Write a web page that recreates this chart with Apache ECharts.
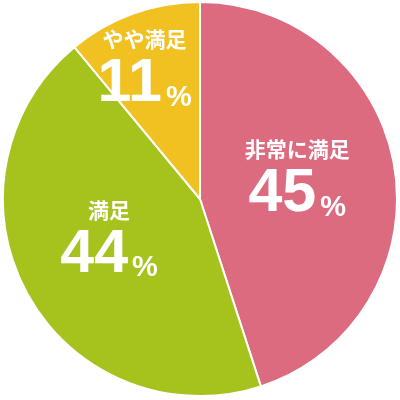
<!DOCTYPE html>
<html><head><meta charset="utf-8">
<script src="https://cdn.jsdelivr.net/npm/echarts@6/dist/echarts.min.js"></script>
<style>html,body{margin:0;padding:0;background:#fff}#c{width:400px;height:400px}</style>
</head><body><div id="c"></div>
<script>
const categories = ['非常に満足', '満足', 'やや満足'];
const values = [45, 44, 11];
const colors = ['#DD6B80', '#A6C21D', '#F1C021'];
const labelShift = [[-3, -6], [-2, -10], [-21, -36]];

const chart = echarts.init(document.getElementById('c'), null, {renderer: 'canvas'});
chart.setOption({
  animation: false,
  series: [{
    type: 'pie',
    center: [200, 199],
    radius: [0, 197],
    startAngle: 90,
    clockwise: true,
    itemStyle: {borderColor: '#fff', borderWidth: 2},
    label: {
      show: true,
      position: 'inside',
      formatter: p => '{name|' + p.name + '}\n{num|' + p.value + '}{pct|%}',
      rich: {
        name: {color: '#fff', fontSize: 21, fontWeight: 'bold', lineHeight: 34, fontFamily: '"Noto Sans CJK JP", sans-serif', align: 'center'},
        num: {color: '#fff', fontSize: 61, fontWeight: 'bold', lineHeight: 56, fontFamily: '"Liberation Sans", Arial, sans-serif'},
        pct: {color: '#fff', fontSize: 29, fontWeight: 'bold', lineHeight: 56, padding: [15, 0, 0, 4], fontFamily: '"Liberation Sans", Arial, sans-serif', verticalAlign: 'bottom'}
      }
    },
    labelLine: {show: false},
    labelLayout: p => ({dx: labelShift[p.dataIndex][0], dy: labelShift[p.dataIndex][1]}),
    emphasis: {disabled: true},
    data: categories.map((c, i) => ({name: c, value: values[i], itemStyle: {color: colors[i]}}))
  }]
});
</script></body></html>
